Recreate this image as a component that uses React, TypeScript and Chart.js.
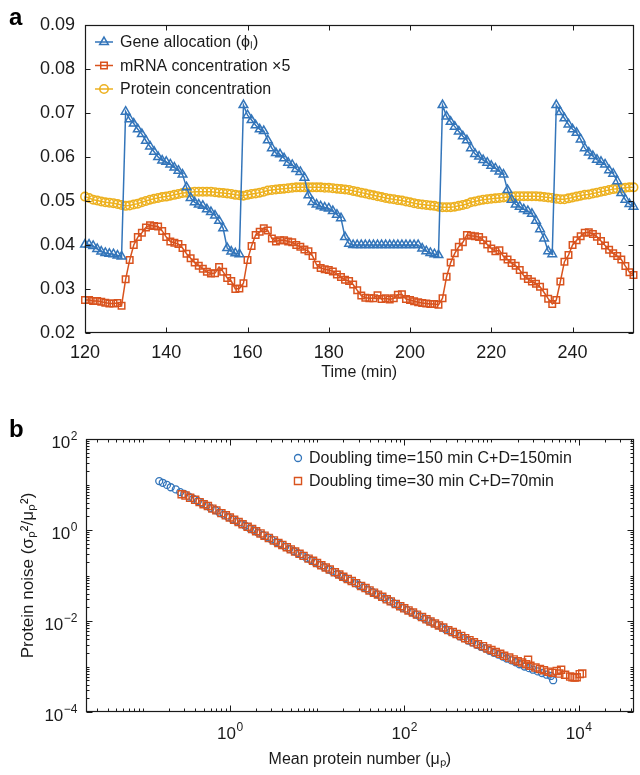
import React, { useEffect, useRef } from 'react';
import { Chart, registerables } from 'chart.js';

Chart.register(...registerables);

const FONT = '"Liberation Sans", Arial, Helvetica, sans-serif';
const BLUE = '#3375BA';
const RED = '#D9531E';
const YELLOW = '#EDB120';
const INK = '#1a1a1a';

// ---------- Panel a ----------
const TIME_START = 120;
const TIME_COUNT = 136;
const TIMES = Array.from({ length: TIME_COUNT }, (_, i) => TIME_START + i);

const GENE_ALLOCATION = [
  0.0401, 0.0401, 0.0398, 0.0391, 0.0385, 0.0382, 0.038, 0.0379, 0.0376, 0.0374,
  0.0703, 0.0686, 0.0676, 0.0663, 0.0652, 0.0637, 0.0624, 0.0612, 0.06, 0.0592,
  0.0589, 0.0583, 0.0576, 0.0569, 0.056, 0.0531, 0.0507, 0.0497, 0.0492, 0.0489,
  0.0481, 0.0475, 0.0467, 0.0455, 0.0438, 0.0393, 0.0385, 0.0381, 0.0379, 0.0718,
  0.0695, 0.0684, 0.0672, 0.0663, 0.0659, 0.0638, 0.062, 0.0609, 0.0606, 0.0597,
  0.0587, 0.0582, 0.0573, 0.0566, 0.0553, 0.0513, 0.0498, 0.0492, 0.0488, 0.0485,
  0.0483, 0.0477, 0.0469, 0.0461, 0.0418, 0.0403, 0.04, 0.04, 0.04, 0.04,
  0.04, 0.04, 0.04, 0.04, 0.04, 0.04, 0.04, 0.04, 0.04, 0.04,
  0.04, 0.04, 0.04, 0.0392, 0.0386, 0.0382, 0.0379, 0.0377, 0.0718, 0.0692,
  0.068, 0.0669, 0.0658, 0.0647, 0.0638, 0.062, 0.0607, 0.0601, 0.0593, 0.0587,
  0.058, 0.0574, 0.0567, 0.056, 0.0525, 0.0503, 0.0492, 0.0487, 0.0481, 0.0477,
  0.0471, 0.0455, 0.0436, 0.0415, 0.0386, 0.0379, 0.0718, 0.0702, 0.0688, 0.0674,
  0.0663, 0.0655, 0.064, 0.062, 0.061, 0.0602, 0.0594, 0.0589, 0.0583, 0.057,
  0.0562, 0.0545, 0.0518, 0.0503, 0.0493, 0.0487,
];

const MRNA_X5 = [
  0.0275, 0.0275, 0.0273, 0.0273, 0.0271, 0.0269, 0.0267, 0.0267, 0.0268, 0.0262,
  0.0322, 0.0366, 0.04, 0.0418, 0.0428, 0.044, 0.0445, 0.0443, 0.0442, 0.0432,
  0.0418, 0.0408, 0.0405, 0.0402, 0.0393, 0.038, 0.037, 0.036, 0.0353, 0.0346,
  0.0339, 0.0335, 0.0336, 0.035, 0.0339, 0.0325, 0.0318, 0.03, 0.0301, 0.0313,
  0.0366, 0.0398, 0.0423, 0.043, 0.0438, 0.0433, 0.0415, 0.0408, 0.0411, 0.0411,
  0.0408, 0.0406, 0.04, 0.0396, 0.039, 0.0386, 0.0375, 0.0355, 0.0348, 0.0345,
  0.0343, 0.034, 0.0333, 0.0327, 0.0321, 0.0318, 0.031, 0.0297, 0.0285, 0.028,
  0.0279, 0.0279, 0.0286, 0.0277, 0.0279, 0.0276, 0.0279, 0.0287, 0.0288, 0.0277,
  0.0275, 0.0272, 0.027, 0.0268, 0.0267, 0.0266, 0.0266, 0.0264, 0.0279, 0.0328,
  0.036, 0.0381, 0.0396, 0.0406, 0.0423, 0.0421, 0.042, 0.0418, 0.0411, 0.0401,
  0.0392, 0.0386, 0.0388, 0.0374, 0.0367, 0.0359, 0.0353, 0.0343, 0.033, 0.0323,
  0.0317, 0.0312, 0.0305, 0.0292, 0.0278, 0.0266, 0.0275, 0.0317, 0.0362, 0.0377,
  0.04, 0.0411, 0.042, 0.0428, 0.0429, 0.0425, 0.0419, 0.0409, 0.0399, 0.0389,
  0.0381, 0.0375, 0.0367, 0.0352, 0.0338, 0.0332,
];

const PROTEIN = [
  0.051, 0.0507, 0.0503, 0.0501, 0.0499, 0.0497, 0.0496, 0.0495, 0.0493, 0.0491,
  0.0489, 0.049, 0.0492, 0.0494, 0.0497, 0.05, 0.0503, 0.0505, 0.0507, 0.0509,
  0.051, 0.0512, 0.0514, 0.0516, 0.0518, 0.0519, 0.052, 0.0521, 0.0521, 0.0521,
  0.0521, 0.0521, 0.052, 0.0519, 0.0518, 0.0517, 0.0516, 0.0514, 0.0513, 0.0512,
  0.0514, 0.0516, 0.0517, 0.0519, 0.0521, 0.0524, 0.0525, 0.0526, 0.0527, 0.0528,
  0.0529, 0.053, 0.0531, 0.0531, 0.0531, 0.0531, 0.0531, 0.0531, 0.0531, 0.053,
  0.053, 0.0529, 0.0528, 0.0527, 0.0526, 0.0525, 0.0523, 0.0521, 0.0519, 0.0517,
  0.0515, 0.0513, 0.0511, 0.0509, 0.0507, 0.0505, 0.0504, 0.0502, 0.0501, 0.0499,
  0.0497, 0.0495, 0.0493, 0.0492, 0.0491, 0.049, 0.0489, 0.0487, 0.0486, 0.0486,
  0.0486, 0.0487, 0.0489, 0.0491, 0.0493, 0.0497, 0.0499, 0.0501, 0.0503, 0.0504,
  0.0505, 0.0506, 0.0507, 0.0508, 0.0509, 0.051, 0.0511, 0.0511, 0.0511, 0.0511,
  0.0511, 0.0511, 0.051, 0.0509, 0.0508, 0.0507, 0.0505, 0.0504, 0.0504, 0.0506,
  0.0508, 0.051, 0.0512, 0.0514, 0.0515, 0.0517, 0.0519, 0.0521, 0.0523, 0.0525,
  0.0527, 0.0528, 0.0529, 0.053, 0.0531, 0.0531,
];

const A_LABELS = ['Gene allocation (\u03D5\u2097)', 'mRNA concentration \u00D75', 'Protein concentration'];
const A_X_TICKS = [120, 140, 160, 180, 200, 220, 240];
const A_Y_TICKS = [0.02, 0.03, 0.04, 0.05, 0.06, 0.07, 0.08, 0.09];

// ---------- Panel b ----------
const MEAN_150 = [
  0.155, 0.17, 0.19, 0.21, 0.24, 0.27, 0.3, 0.34, 0.38, 0.43, 0.48, 0.54, 0.6, 0.68, 0.76, 0.85, 0.95,
  1.07, 1.2, 1.35, 1.5, 1.7, 1.9, 2.1, 2.4, 2.7, 3.0, 3.4, 3.8, 4.3, 4.8, 5.4, 6.0, 6.8, 7.6, 8.5, 9.5,
  10.7, 12, 13.5, 15, 17, 19, 21, 24, 27, 30, 34, 38, 43, 48, 54, 60, 68, 76, 85, 95,
  107, 120, 135, 150, 170, 190, 210, 240, 270, 300, 340, 380, 430, 480, 540, 600, 680, 760, 850, 950,
  1070, 1200, 1350, 1500, 1700, 1900, 2100, 2400, 2700, 3000, 3400, 3800, 4300, 4800, 5100,
];
const NOISE_150 = [
  11.9, 10.9, 9.8, 8.7, 7.8, 6.8, 6.2, 5.4, 4.9, 4.3, 3.85, 3.45, 3.05, 2.75, 2.42, 2.18, 1.95,
  1.72, 1.55, 1.37, 1.24, 1.08, 0.98, 0.88, 0.77, 0.69, 0.62, 0.54, 0.49, 0.43, 0.385, 0.345, 0.31, 0.272, 0.243, 0.218, 0.195,
  0.172, 0.154, 0.137, 0.123, 0.109, 0.097, 0.088, 0.077, 0.069, 0.062, 0.055, 0.049, 0.0435, 0.039, 0.0345, 0.031, 0.0275, 0.0245, 0.022, 0.0197,
  0.0176, 0.0157, 0.014, 0.0127, 0.0113, 0.0101, 0.0092, 0.0081, 0.0072, 0.0065, 0.0058, 0.0052, 0.0046, 0.0042, 0.0037, 0.0034, 0.003, 0.0027, 0.0025, 0.0022,
  0.002, 0.00182, 0.00165, 0.0015, 0.00136, 0.00124, 0.00112, 0.001, 0.00092, 0.00085, 0.00078, 0.00072, 0.00066, 0.00062, 0.0005,
];

const MEAN_30 = [
  0.28, 0.31, 0.35, 0.4, 0.45, 0.5, 0.56, 0.63, 0.7, 0.8, 0.9, 1.0, 1.12, 1.26, 1.4, 1.6, 1.8, 2.0, 2.25, 2.5, 2.8,
  3.2, 3.6, 4.0, 4.5, 5.0, 5.6, 6.3, 7.0, 8.0, 9.0, 10, 11.2, 12.6, 14, 16, 18, 20, 22.5, 25, 28,
  32, 36, 40, 45, 50, 56, 63, 70, 80, 90, 100, 112, 126, 140, 160, 180, 200, 225, 250, 280,
  320, 360, 400, 450, 500, 560, 630, 700, 800, 900, 1000, 1120, 1260, 1400, 1600, 1800, 2000, 2250, 2500, 2630,
  2800, 3200, 3600, 4000, 4500, 5000, 5600, 6000, 6300, 7000, 8000, 8500, 9000, 9500, 10300, 11000,
];
const NOISE_30 = [
  6.1, 5.7, 5.1, 4.6, 4.1, 3.7, 3.35, 2.95, 2.7, 2.35, 2.1, 1.88, 1.68, 1.5, 1.34, 1.18, 1.05, 0.94, 0.84, 0.75, 0.67,
  0.59, 0.52, 0.47, 0.42, 0.375, 0.335, 0.3, 0.27, 0.235, 0.21, 0.188, 0.168, 0.15, 0.135, 0.118, 0.105, 0.094, 0.084, 0.076, 0.068,
  0.059, 0.053, 0.047, 0.042, 0.038, 0.034, 0.03, 0.027, 0.0237, 0.0212, 0.019, 0.0171, 0.0153, 0.0138, 0.0122, 0.0109, 0.0098, 0.0088, 0.008, 0.0072,
  0.0063, 0.0057, 0.0052, 0.0047, 0.0042, 0.0038, 0.0034, 0.0031, 0.0028, 0.0025, 0.0023, 0.00208, 0.0019, 0.00172, 0.00157, 0.00143, 0.00131, 0.00122, 0.00112, 0.0014,
  0.00104, 0.00095, 0.00088, 0.00083, 0.00077, 0.00073, 0.0008, 0.0007, 0.00085, 0.00066, 0.0006, 0.00058, 0.00057, 0.00058, 0.00068, 0.0007,
];

const B_LABELS = ['Doubling time=150 min C+D=150min', 'Doubling time=30 min C+D=70min'];
const B_X_TICKS = [1, 100, 10000];
const B_Y_TICKS = [1e-4, 1e-2, 1, 100];
const B_X_RANGE = [0.0224, 42700];
const B_Y_RANGE = [1e-4, 100];

// ---------- helpers ----------
function drawMarker(ctx: CanvasRenderingContext2D, style: string, x: number, y: number, r: number) {
  ctx.beginPath();
  if (style === 'circle') {
    ctx.arc(x, y, r, 0, Math.PI * 2);
  } else if (style === 'triangle') {
    let rad = 0;
    ctx.moveTo(x + Math.sin(rad) * r, y - Math.cos(rad) * r);
    rad += (2 * Math.PI) / 3;
    ctx.lineTo(x + Math.sin(rad) * r, y - Math.cos(rad) * r);
    rad += (2 * Math.PI) / 3;
    ctx.lineTo(x + Math.sin(rad) * r, y - Math.cos(rad) * r);
    ctx.closePath();
  } else {
    const s = Math.SQRT1_2 * r;
    ctx.rect(x - s, y - s, 2 * s, 2 * s);
  }
  ctx.stroke();
}

function logMinorTicks(min: number, max: number, majors: number[]) {
  const out: number[] = [];
  for (let e = Math.floor(Math.log10(min)); e <= Math.ceil(Math.log10(max)); e++) {
    for (let k = 1; k <= 9; k++) {
      const v = k * Math.pow(10, e);
      if (v >= min && v <= max && !majors.some((m) => Math.abs(m - v) / m < 1e-9)) out.push(v);
    }
  }
  return out;
}

function expText(v: number) {
  const e = Math.round(Math.log10(v));
  return e < 0 ? '\u2212' + Math.abs(e) : String(e);
}

const framePlugin = {
  id: 'frame',
  afterDatasetsDraw(chart: any, _args: any, opts: any) {
    const { ctx, chartArea } = chart;
    const xs = chart.scales.x;
    const ys = chart.scales.y;
    const L = Math.round(chartArea.left) + 0.5;
    const R = Math.round(chartArea.right) - 0.5;
    const T = Math.round(chartArea.top) + 0.5;
    const B = Math.round(chartArea.bottom) - 0.5;
    ctx.save();
    ctx.strokeStyle = INK;
    ctx.lineWidth = 1;
    ctx.beginPath();
    const xTick = (vals: number[], len: number) => {
      vals.forEach((v) => {
        const px = Math.round(xs.getPixelForValue(v)) + 0.5;
        ctx.moveTo(px, B);
        ctx.lineTo(px, B - len);
        ctx.moveTo(px, T);
        ctx.lineTo(px, T + len);
      });
    };
    const yTick = (vals: number[], len: number) => {
      vals.forEach((v) => {
        const py = Math.round(ys.getPixelForValue(v)) + 0.5;
        ctx.moveTo(L, py);
        ctx.lineTo(L + len, py);
        ctx.moveTo(R, py);
        ctx.lineTo(R - len, py);
      });
    };
    xTick(opts.xMajor || [], opts.majorLen);
    yTick(opts.yMajor || [], opts.majorLen);
    xTick(opts.xMinor || [], opts.minorLen);
    yTick(opts.yMinor || [], opts.minorLen);
    ctx.stroke();
    ctx.lineWidth = 1.2;
    ctx.strokeRect(L, T, R - L, B - T);

    if (opts.logLabels) {
      ctx.fillStyle = INK;
      ctx.textBaseline = 'alphabetic';
      const big = `17px ${FONT}`;
      const small = `12px ${FONT}`;
      (opts.xMajor || []).forEach((v: number) => {
        const cx = xs.getPixelForValue(v);
        ctx.font = big;
        const w1 = ctx.measureText('10').width;
        ctx.font = small;
        const ex = expText(v);
        const w2 = ctx.measureText(ex).width;
        const x0 = cx - (w1 + w2) / 2;
        const base = B + opts.xLabelBase;
        ctx.font = big;
        ctx.textAlign = 'left';
        ctx.fillText('10', x0, base);
        ctx.font = small;
        ctx.fillText(ex, x0 + w1 + 0.5, base - 8);
      });
      (opts.yMajor || []).forEach((v: number) => {
        const cy = ys.getPixelForValue(v);
        ctx.font = small;
        const ex = expText(v);
        const w2 = ctx.measureText(ex).width;
        const xr = L - opts.yLabelGap;
        ctx.textAlign = 'left';
        ctx.fillText(ex, xr - w2, cy + 1);
        ctx.font = big;
        ctx.textAlign = 'right';
        ctx.fillText('10', xr - w2 - 0.5, cy + 9);
      });
    }

    if (opts.panel) {
      ctx.font = `bold 24px ${FONT}`;
      ctx.fillStyle = '#000';
      ctx.textAlign = 'left';
      ctx.textBaseline = 'alphabetic';
      ctx.fillText(opts.panel.text, opts.panel.x, opts.panel.y);
    }
    ctx.restore();
  },
};

const insideLegendPlugin = {
  id: 'insideLegend',
  afterDraw(chart: any, _args: any, opts: any) {
    if (!opts.items) return;
    const { ctx } = chart;
    ctx.save();
    opts.items.forEach((it: any, i: number) => {
      const ds = chart.data.datasets[it.dataset];
      const y = opts.y + i * opts.dy;
      ctx.strokeStyle = ds.borderColor;
      if (opts.showLine) {
        ctx.lineWidth = ds.borderWidth;
        ctx.beginPath();
        ctx.moveTo(opts.lineX0, y);
        ctx.lineTo(opts.lineX1, y);
        ctx.stroke();
      }
      ctx.lineWidth = ds.pointBorderWidth;
      drawMarker(ctx, ds.pointStyle, opts.markerX, y, ds.pointRadius);
      ctx.fillStyle = INK;
      ctx.font = `16px ${FONT}`;
      ctx.textAlign = 'left';
      ctx.textBaseline = 'middle';
      ctx.fillText(ds.label, opts.textX, y + 1);
    });
    ctx.restore();
  },
};

function PanelA() {
  const ref = useRef<HTMLCanvasElement>(null);
  useEffect(() => {
    if (!ref.current) return;
    const mk = (vals: number[]) => TIMES.map((t, i) => ({ x: t, y: vals[i] }));
    const chart = new Chart(ref.current, {
      type: 'line',
      data: {
        datasets: [
          {
            label: A_LABELS[0],
            data: mk(GENE_ALLOCATION),
            borderColor: BLUE,
            borderWidth: 1.5,
            pointStyle: 'triangle',
            pointRadius: 5,
            pointBorderWidth: 1.5,
            pointBorderColor: BLUE,
            pointBackgroundColor: 'rgba(0,0,0,0)',
            tension: 0,
            clip: false,
          } as any,
          {
            label: A_LABELS[1],
            data: mk(MRNA_X5),
            borderColor: RED,
            borderWidth: 1.5,
            pointStyle: 'rect',
            pointRadius: 4.6,
            pointBorderWidth: 1.5,
            pointBorderColor: RED,
            pointBackgroundColor: 'rgba(0,0,0,0)',
            tension: 0,
            clip: false,
          } as any,
          {
            label: A_LABELS[2],
            data: mk(PROTEIN),
            borderColor: YELLOW,
            borderWidth: 1.5,
            pointStyle: 'circle',
            pointRadius: 4.2,
            pointBorderWidth: 1.6,
            pointBorderColor: YELLOW,
            pointBackgroundColor: 'rgba(0,0,0,0)',
            tension: 0,
            clip: false,
          } as any,
        ],
      },
      options: {
        animation: false,
        responsive: false,
        events: [],
        layout: { padding: { left: 0, right: 5, top: 25, bottom: 0 } },
        plugins: {
          legend: { display: false },
          tooltip: { enabled: false },
          frame: {
            xMajor: A_X_TICKS,
            yMajor: A_Y_TICKS,
            majorLen: 5,
            minorLen: 3,
            panel: { text: 'a', x: 9, y: 25 },
          },
          insideLegend: {
            items: [{ dataset: 0 }, { dataset: 1 }, { dataset: 2 }],
            showLine: true,
            y: 42,
            dy: 23.5,
            lineX0: 95,
            lineX1: 113,
            markerX: 104,
            textX: 120,
          },
        } as any,
        scales: {
          x: {
            type: 'linear',
            min: 120,
            max: 255,
            afterBuildTicks: (s: any) => {
              s.ticks = A_X_TICKS.map((v) => ({ value: v }));
            },
            afterFit: (s: any) => {
              s.height = 62;
            },
            grid: { display: false, drawTicks: false },
            border: { display: false },
            ticks: {
              font: { family: FONT, size: 18 },
              color: INK,
              padding: 9,
              maxRotation: 0,
              autoSkip: false,
            },
            title: {
              display: true,
              text: 'Time (min)',
              font: { family: FONT, size: 16 },
              color: INK,
              padding: { top: 0, bottom: 13 },
            },
          },
          y: {
            type: 'linear',
            min: 0.02,
            max: 0.09,
            afterBuildTicks: (s: any) => {
              s.ticks = A_Y_TICKS.map((v) => ({ value: v }));
            },
            afterFit: (s: any) => {
              s.width = 85;
            },
            grid: { display: false, drawTicks: false },
            border: { display: false },
            ticks: {
              font: { family: FONT, size: 18 },
              color: INK,
              padding: 10,
              callback: (v: any) => Number(v).toFixed(2),
            },
          },
        },
      },
      plugins: [framePlugin, insideLegendPlugin],
    });
    return () => chart.destroy();
  }, []);
  return <canvas ref={ref} width={640} height={395} style={{ position: 'absolute', left: 0, top: 0 }} />;
}

function PanelB() {
  const ref = useRef<HTMLCanvasElement>(null);
  useEffect(() => {
    if (!ref.current) return;
    const blue = MEAN_150.map((m, i) => ({ x: m, y: NOISE_150[i] }));
    const red = MEAN_30.map((m, i) => ({ x: m, y: NOISE_30[i] }));
    const chart = new Chart(ref.current, {
      type: 'scatter',
      data: {
        datasets: [
          {
            label: B_LABELS[0],
            data: blue,
            borderColor: BLUE,
            pointStyle: 'circle',
            pointRadius: 3.5,
            pointBorderWidth: 1.3,
            pointBorderColor: BLUE,
            pointBackgroundColor: 'rgba(0,0,0,0)',
            order: 2,
          } as any,
          {
            label: B_LABELS[1],
            data: red,
            borderColor: RED,
            pointStyle: 'rect',
            pointRadius: 5,
            pointBorderWidth: 1.4,
            pointBorderColor: RED,
            pointBackgroundColor: 'rgba(0,0,0,0)',
            order: 1,
          } as any,
        ],
      },
      options: {
        animation: false,
        responsive: false,
        events: [],
        layout: { padding: { left: 0, right: 6, top: 44, bottom: 0 } },
        plugins: {
          legend: { display: false },
          tooltip: { enabled: false },
          frame: {
            xMajor: B_X_TICKS,
            yMajor: B_Y_TICKS,
            xMinor: logMinorTicks(B_X_RANGE[0], B_X_RANGE[1], B_X_TICKS),
            yMinor: logMinorTicks(B_Y_RANGE[0], B_Y_RANGE[1], B_Y_TICKS),
            majorLen: 6,
            minorLen: 3,
            logLabels: true,
            xLabelBase: 27,
            yLabelGap: 9,
            panel: { text: 'b', x: 9, y: 42 },
          },
          insideLegend: {
            items: [{ dataset: 0 }, { dataset: 1 }],
            showLine: false,
            y: 63,
            dy: 23,
            markerX: 298,
            textX: 309,
          },
        } as any,
        scales: {
          x: {
            type: 'logarithmic',
            min: B_X_RANGE[0],
            max: B_X_RANGE[1],
            afterBuildTicks: (s: any) => {
              s.ticks = B_X_TICKS.map((v) => ({ value: v }));
            },
            afterFit: (s: any) => {
              s.height = 63;
            },
            grid: { display: false, drawTicks: false },
            border: { display: false },
            ticks: { display: false },
            title: {
              display: true,
              text: 'Mean protein number (\u03BC\u209A)',
              font: { family: FONT, size: 16 },
              color: INK,
              padding: { top: 0, bottom: 6 },
            },
          },
          y: {
            type: 'logarithmic',
            min: B_Y_RANGE[0],
            max: B_Y_RANGE[1],
            afterBuildTicks: (s: any) => {
              s.ticks = B_Y_TICKS.map((v) => ({ value: v }));
            },
            afterFit: (s: any) => {
              s.width = 86;
            },
            grid: { display: false, drawTicks: false },
            border: { display: false },
            ticks: { display: false },
            title: {
              display: true,
              text: 'Protein noise (\u03C3\u209A\u00B2/\u03BC\u209A\u00B2)',
              font: { family: FONT, size: 17 },
              color: INK,
              padding: { top: 18, bottom: 0 },
            },
          },
        },
      },
      plugins: [framePlugin, insideLegendPlugin],
    });
    return () => chart.destroy();
  }, []);
  return <canvas ref={ref} width={640} height={380} style={{ position: 'absolute', left: 0, top: 395 }} />;
}

export default function App() {
  return (
    <div style={{ position: 'absolute', left: 0, top: 0, width: 640, height: 775, background: '#fff' }}>
      <PanelA />
      <PanelB />
    </div>
  );
}
